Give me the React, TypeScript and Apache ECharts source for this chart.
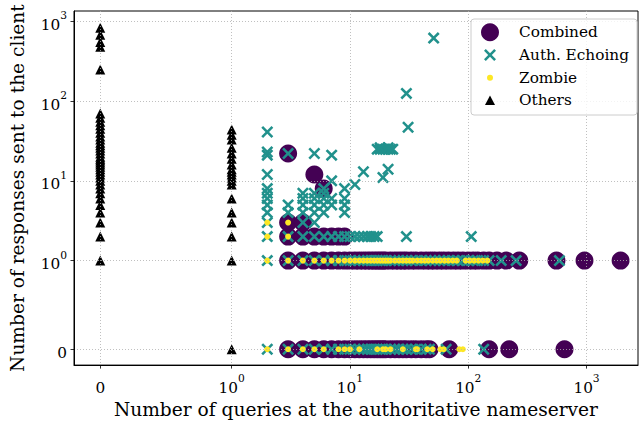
import React, { useEffect, useRef } from 'react';
import * as echarts from 'echarts';

// ---- data (raw counts) ----
const xTicks = [0, 1, 10, 100, 1000];
const yTicks = [0, 1, 10, 100, 1000];

// Combined: x positions per response count row
const combinedAtY0 = [3, 4, 5, 6, 7, 8, 9, 10, 11, 12, 13, 14, 15, 16, 17, 18, 19, 20, 22, 24, 26, 28, 30, 33, 36, 40, 44, 47, 69, 150, 222, 651];
const combinedAtY1 = [3, 4, 5, 6, 7, 8, 9, 10, 11, 12, 13, 14, 15, 16, 17, 18, 19, 20, 22, 24, 26, 28, 30, 33, 36, 40, 44, 48, 52, 57, 62, 68, 75, 82, 90, 100, 110, 120, 135, 150, 175, 210, 270, 557, 961, 1940];
const combinedAtY2 = [3, 4, 5, 6, 7, 8, 9];
const combinedAtY3 = [3, 4];
const combinedOther = [[6, 8], [5, 12], [3, 22]];

// Auth. Echoing
const authAtY0 = [2, 3, 4, 5, 6, 7, 8, 9, 10, 11, 12, 13, 14, 15, 16, 17, 18, 19, 20, 22, 24, 26, 28, 30, 33, 36, 40, 44, 47, 65, 135];
const authAtY1 = [2, 3, 4, 5, 6, 7, 8, 9, 10, 11, 12, 13, 14, 15, 16, 17, 18, 19, 20, 22, 24, 26, 28, 30, 33, 36, 40, 44, 48, 52, 57, 62, 68, 75, 82, 90, 100, 110, 120, 135, 150, 190, 254, 590];
const authAtY2 = [2, 3, 4, 5, 6, 7, 8, 9, 10, 11, 12, 13, 14, 15, 16, 17, 30, 106];
const authAtY3 = [2, 4, 5];
const authOther = [
  [2, 4], [2, 5], [2, 6], [2, 7], [2, 8], [2, 12], [2, 21], [2, 23], [2, 41],
  [3, 4], [3, 5], [3, 22],
  [4, 4], [4, 5], [4, 6], [4, 7],
  [5, 4], [5, 5], [5, 6], [5, 7], [5, 22],
  [6, 4], [6, 5], [6, 6], [6, 7], [6, 8],
  [7, 5], [7, 6], [7, 10], [7, 21],
  [9, 4], [9, 5], [9, 6], [9, 8],
  [11, 9], [13, 13], [19, 11], [21, 14],
  [17, 25], [18, 25], [19, 25], [20, 25], [21, 25], [22, 25], [23, 25], [18, 26], [21, 26],
  [31, 47], [30, 125], [51, 617],
];

// Zombie
const zombieAtY0 = [2, 3, 4, 5, 6, 8, 9, 10, 12, 17, 19, 20, 22, 28, 36, 37, 45, 50, 58, 62, 84, 90];
const zombieAtY1 = [2, 3, 4, 5, 6, 7, 8, 9, 10, 11, 12, 13, 14, 15, 16, 17, 18, 19, 20, 21, 22, 24, 26, 28, 30, 32, 34, 37, 40, 43, 46, 50, 54, 58, 63, 68, 74, 80, 95, 103, 112, 122, 133, 145];
const zombieAtY2 = [2, 3];
const zombieAtY3 = [2, 3];

// Others: y values per x column
const othersAtX0 = [1, 2, 3, 4, 5, 6, 7, 8, 9, 10, 11, 12, 13, 14, 15, 16, 17, 18, 19, 20, 22, 24, 26, 28, 30, 33, 36, 40, 45, 50, 55, 62, 70, 250, 480, 550, 680, 830];
const othersAtX1 = [0, 1, 2, 3, 4, 6, 9, 10, 11, 12, 13, 14, 16, 19, 22, 26, 33, 38, 44];

// ---- symlog (linthresh 1, base 10) scale, shifted so 10^k -> k+1 ----
const t = (v: number) => (v <= 1 ? (v * 10 - 1) / 9 : Math.log10(v) + 1);
const row = (xs: number[], y: number) => xs.map((x) => [t(x), t(y)]);
const col = (x: number, ys: number[]) => ys.map((y) => [t(x), t(y)]);
const pairs = (ps: number[][]) => ps.map(([x, y]) => [t(x), t(y)]);

const SERIF = "'DejaVu Serif', serif";
const CROSS = 'path://M1.5,0L5,3.5L8.5,0L10,1.5L6.5,5L10,8.5L8.5,10L5,6.5L1.5,10L0,8.5L3.5,5L0,1.5Z';
const CROSS_LEG = 'path://M0,0M18,18M3,4.8L4.8,3L9,7.2L13.2,3L15,4.8L10.8,9L15,13.2L13.2,15L9,10.8L4.8,15L3,13.2L7.2,9Z';
const DOT_LEG = 'path://M0,0M18,18M12,9A3,3,0,1,1,6,9A3,3,0,1,1,12,9Z';
const TRI_LEG = 'path://M0,0M18,18M9,4L14,13.5L4,13.5Z';

const fmt = (v: number) => {
  if (v < 0) return '{b|0}';
  const e = Math.round(v - 1);
  return `{b|10}{s|${e}}`;
};
const rich = {
  b: { fontFamily: SERIF, fontSize: 15.3, color: '#000', lineHeight: 22, verticalAlign: 'bottom' },
  s: { fontFamily: SERIF, fontSize: 10.7, color: '#000', lineHeight: 12, verticalAlign: 'top' },
};

const axisCommon = (ticks: number[]) => ({
  type: 'value',
  z: 3,
  axisLine: { show: true, onZero: false, lineStyle: { color: '#000', width: 1 } },
  axisTick: { show: true, inside: false, length: 3.5, lineStyle: { color: '#000', width: 0.8 }, customValues: ticks.map(t) },
  axisLabel: { customValues: ticks.map(t), formatter: fmt, rich },
  splitLine: { show: true, lineStyle: { color: '#b0b0b0', width: 0.8, type: [1, 2] } },
  nameLocation: 'middle',
  nameTextStyle: { fontFamily: SERIF, fontSize: 18.6, color: '#000' },
});

export default function App() {
  const ref = useRef<HTMLDivElement>(null);
  useEffect(() => {
    document.body.style.margin = '0';
    const chart = echarts.init(ref.current!, undefined, { renderer: 'svg' });
    const xA: any = axisCommon(xTicks);
    const yA: any = axisCommon(yTicks);
    chart.setOption({
      animation: false,
      grid: { left: 73, right: 2, top: 11, bottom: 55, show: true, borderColor: '#000', borderWidth: 1 },
      xAxis: {
        ...xA,
        min: -0.333,
        max: 4.435,
        name: 'Number of queries at the authoritative nameserver',
        nameGap: 32,
        axisLabel: { ...xA.axisLabel, margin: 8 },
      },
      yAxis: {
        ...yA,
        min: -0.31,
        max: 4.13,
        name: 'Number of responses sent to the client',
        nameGap: 47,
        axisLabel: { ...yA.axisLabel, margin: 7 },
      },
      legend: {
        left: 481,
        top: 23.3,
        orient: 'vertical',
        padding: 0,
        itemWidth: 48,
        itemHeight: 18,
        itemGap: 4.7,
        selectedMode: false,
        z: 21,
        textStyle: { fontFamily: SERIF, fontSize: 15.3, color: '#000' },
        data: [
          { name: 'Combined', icon: 'circle' },
          { name: 'Auth. Echoing', icon: CROSS_LEG },
          { name: 'Zombie', icon: DOT_LEG },
          { name: 'Others', icon: TRI_LEG },
        ],
      },
      graphic: [
        {
          type: 'rect',
          z: 20,
          shape: { x: 471, y: 19, width: 166, height: 96, r: 3 },
          style: { fill: 'rgba(255,255,255,0.8)', stroke: '#cccccc', lineWidth: 1 },
        },
      ],
      series: [
        {
          name: 'Combined',
          type: 'scatter',
          symbol: 'circle',
          symbolSize: 18,
          itemStyle: { color: '#440154', opacity: 1 },
          data: [
            ...row(combinedAtY0, 0),
            ...row(combinedAtY1, 1),
            ...row(combinedAtY2, 2),
            ...row(combinedAtY3, 3),
            ...pairs(combinedOther),
          ],
        },
        {
          name: 'Auth. Echoing',
          type: 'scatter',
          symbol: CROSS,
          symbolSize: 12,
          itemStyle: { color: '#21918c', opacity: 1 },
          data: [
            ...row(authAtY0, 0),
            ...row(authAtY1, 1),
            ...row(authAtY2, 2),
            ...row(authAtY3, 3),
            ...pairs(authOther),
          ],
        },
        {
          name: 'Zombie',
          type: 'scatter',
          symbol: 'circle',
          symbolSize: 6,
          itemStyle: { color: '#fde725', opacity: 1 },
          data: [
            ...row(zombieAtY0, 0),
            ...row(zombieAtY1, 1),
            ...row(zombieAtY2, 2),
            ...row(zombieAtY3, 3),
          ],
        },
        {
          name: 'Others',
          type: 'scatter',
          symbol: 'triangle',
          symbolSize: 10,
          itemStyle: { color: '#000', opacity: 1 },
          data: [...col(0, othersAtX0), ...col(1, othersAtX1)],
        },
      ],
    });
    return () => chart.dispose();
  }, []);
  return <div ref={ref} style={{ width: 640, height: 424 }} />;
}
